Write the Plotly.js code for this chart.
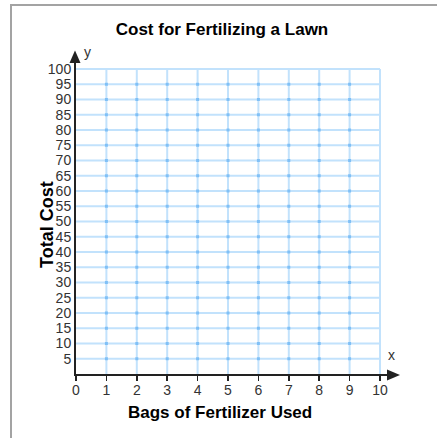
<!DOCTYPE html>
<html>
<head>
<meta charset="utf-8">
<script src="https://cdn.plot.ly/plotly-3.0.1.min.js"></script>
<style>
  html, body { margin: 0; padding: 0; background: #fff; }
  #wrap { position: relative; width: 437px; height: 438px; overflow: hidden; }
  #frame { position: absolute; left: 10px; top: 4px; width: 600px; height: 600px;
           border-top: 2px solid #a3a3a3; border-left: 2px solid #a3a3a3; }
  #chart { position: absolute; left: 0; top: 0; width: 437px; height: 438px; }
</style>
</head>
<body>
<div id="wrap">
  <div id="frame"></div>
  <div id="chart"></div>
</div>
<script>
// ---- data ----
const chartTitle = "Cost for Fertilizing a Lawn";
const xTitle = "Bags of Fertilizer Used";
const yTitle = "Total Cost";
const xTickVals = [0, 1, 2, 3, 4, 5, 6, 7, 8, 9, 10];
const yTickVals = [5, 10, 15, 20, 25, 30, 35, 40, 45, 50, 55, 60, 65, 70, 75, 80, 85, 90, 95, 100];
const gridXVals = [1, 2, 3, 4, 5, 6, 7, 8, 9, 10];
const gridYVals = [5, 10, 15, 20, 25, 30, 35, 40, 45, 50, 55, 60, 65, 70, 75, 80, 85, 90, 95, 100];
const dotXVals = [1, 2, 3, 4, 5, 6, 7, 8, 9];
const dotYVals = [5, 10, 15, 20, 25, 30, 35, 40, 45, 50, 55, 60, 65, 70, 75, 80, 85, 90, 95];
const xMin = 0, xMax = 10, yMin = 0, yMax = 100;

// ---- layout geometry ----
const W = 437, H = 438;
const M = { l: 76, r: 50, t: 63, b: 64 };
const plotW = W - M.l - M.r, plotH = H - M.t - M.b;
const pxPerX = 30.4, pxPerY = 3.05;
const xRangeMax = plotW / pxPerX;
const yRangeMax = plotH / pxPerY;

const fontFam = '"Liberation Sans", Arial, Helvetica, sans-serif';
const gridColor = 'rgb(194,226,252)';
const dotColor = 'rgb(128,192,246)';
const axisColor = '#222';
const tickFont = { family: fontFam, size: 14, color: '#333' };

// grid traces built from the arrays
const vx = [], vy = [];
gridXVals.forEach(x => { vx.push(x, x, null); vy.push(yMin, yMax, null); });
const hx = [], hy = [];
gridYVals.forEach(y => { hx.push(xMin, xMax, null); hy.push(y, y, null); });
const dx = [], dy = [];
dotXVals.forEach(x => dotYVals.forEach(y => { dx.push(x); dy.push(y); }));

const traces = [
  { type: 'scatter', mode: 'lines', x: vx, y: vy, line: { color: gridColor, width: 2 }, hoverinfo: 'skip', showlegend: false },
  { type: 'scatter', mode: 'lines', x: hx, y: hy, line: { color: gridColor, width: 2 }, hoverinfo: 'skip', showlegend: false },
  { type: 'scatter', mode: 'markers', x: dx, y: dy, marker: { symbol: 'square', size: 3, color: dotColor, line: { width: 0 } }, hoverinfo: 'skip', showlegend: false }
];

// arrowheads in domain coordinates (pixel sizes converted)
const dxp = p => p / plotW, dyp = p => p / plotH;
const xArrow = `M 1 ${dyp(-1 - 5.5)} L ${1 + dxp(13)} ${dyp(-1)} L 1 ${dyp(-1 + 5.5)} Z`;
const yArrow = `M ${dxp(-1 - 5.5)} 1 L ${dxp(-1)} ${1 + dyp(12.5)} L ${dxp(-1 + 5.5)} 1 Z`;

const layout = {
  width: W, height: H,
  margin: M,
  paper_bgcolor: 'rgba(0,0,0,0)',
  plot_bgcolor: 'rgba(0,0,0,0)',
  showlegend: false,
  font: { family: fontFam, color: '#333', size: 14 },
  title: {
    text: '<b>' + chartTitle + '</b>',
    font: { family: fontFam, size: 17, color: '#000' },
    xref: 'container', yref: 'container',
    x: 222 / W, xanchor: 'center',
    y: 1 - 29 / H, yanchor: 'middle'
  },
  xaxis: {
    range: [xMin, xRangeMax],
    tickmode: 'array', tickvals: xTickVals, ticktext: xTickVals.map(String),
    ticks: 'outside', ticklen: 5, tickwidth: 1.5, tickcolor: axisColor,
    ticklabelstandoff: -3,
    showgrid: false, zeroline: false,
    showline: true, linecolor: axisColor, linewidth: 2,
    tickfont: tickFont,
    fixedrange: true
  },
  yaxis: {
    range: [yMin, yRangeMax],
    tickmode: 'array', tickvals: yTickVals, ticktext: yTickVals.map(String),
    ticks: '', showgrid: false, zeroline: false,
    showline: true, linecolor: axisColor, linewidth: 2,
    tickfont: tickFont,
    fixedrange: true
  },
  shapes: [
    { type: 'path', xref: 'x domain', yref: 'y domain', path: xArrow, fillcolor: axisColor, line: { width: 0 } },
    { type: 'path', xref: 'x domain', yref: 'y domain', path: yArrow, fillcolor: axisColor, line: { width: 0 } }
  ],
  annotations: [
    { text: '<b>' + xTitle + '</b>', xref: 'paper', yref: 'paper', showarrow: false,
      x: (220 - M.l) / plotW, xanchor: 'center', y: -(412 - (H - M.b)) / plotH, yanchor: 'middle',
      font: { family: fontFam, size: 17, color: '#000' } },
    { text: '<b>' + yTitle + '</b>', xref: 'paper', yref: 'paper', showarrow: false, textangle: -90,
      x: (47 - M.l) / plotW, xanchor: 'center', y: 1 - (225 - M.t) / plotH, yanchor: 'middle',
      font: { family: fontFam, size: 18, color: '#000' } },
    { text: 'y', xref: 'paper', yref: 'paper', showarrow: false,
      x: (87 - M.l) / plotW, xanchor: 'center', y: 1 - (52 - M.t) / plotH, yanchor: 'middle',
      font: { family: fontFam, size: 14, color: '#333' } },
    { text: 'x', xref: 'paper', yref: 'paper', showarrow: false,
      x: (391 - M.l) / plotW, xanchor: 'center', y: 1 - (355 - M.t) / plotH, yanchor: 'middle',
      font: { family: fontFam, size: 14, color: '#333' } }
  ]
};

Plotly.newPlot('chart', traces, layout, { staticPlot: true, displayModeBar: false });
</script>
</body>
</html>
